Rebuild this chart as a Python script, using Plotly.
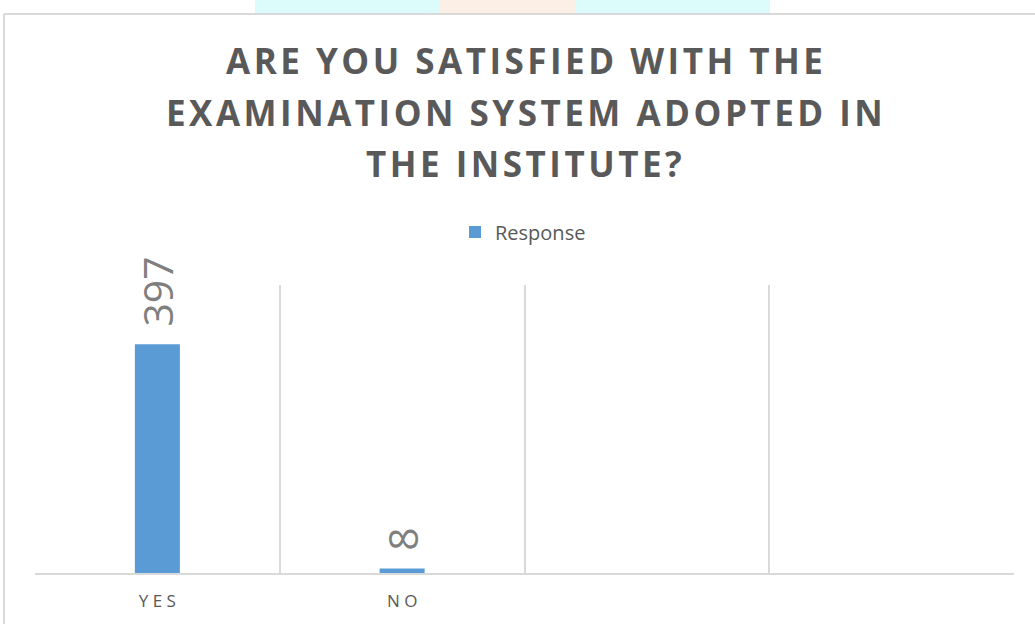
import plotly.graph_objects as go

categories = ["YES", "NO", "c3", "c4"]
tick_labels = ["Y E S", "N O", "", ""]
values = [397, 8, None, None]
series_name = "Response"
title_lines = ["ARE YOU SATISFIED WITH THE", "EXAMINATION SYSTEM ADOPTED IN", "THE INSTITUTE?"]

W, H = 1035, 624
L, R, T, B = 35, 21, 285, 51
ph = H - T - B
pw = W - L - R

def px(x):
    return (x - L) / pw

def py(y):
    return (H - B - y) / ph

fig = go.Figure()
fig.add_trace(go.Bar(
    x=categories, y=values, name=series_name,
    marker=dict(color="#5B9BD5", line=dict(width=0)),
    width=0.184,
    text=[("\u00a0\u200a" + str(v)) if v is not None else "" for v in values],
    textposition="outside", textangle=-90,
    textfont=dict(family="Open Sans", size=41, color="#7f7f7f"),
    constraintext="none", cliponaxis=False,
    showlegend=True, hoverinfo="skip",
))

def spaced(s):
    return "\u200a".join(list(s))

annotations = []
for i, line in enumerate(title_lines):
    annotations.append(dict(
        text="<b>" + spaced(line) + "</b>", xref="paper", yref="paper",
        x=px(524), y=py([60, 112, 163][i]), xanchor="center", yanchor="middle",
        showarrow=False,
        font=dict(family="Open Sans", size=35, color="#595959"),
    ))

shapes = [
    dict(type="rect", xref="paper", yref="paper", x0=px(255), x1=px(770), y0=py(13), y1=py(-2),
         fillcolor="#dcfbfb", line=dict(width=0), layer="below"),
    dict(type="rect", xref="paper", yref="paper", x0=px(440), x1=px(575), y0=py(13), y1=py(-2),
         fillcolor="#fbefe6", line=dict(width=0), layer="below"),
    dict(type="line", xref="paper", yref="paper", x0=px(4), x1=px(1040), y0=py(14), y1=py(14),
         line=dict(color="#d9d9d9", width=2)),
    dict(type="line", xref="paper", yref="paper", x0=px(4), x1=px(4), y0=py(14), y1=py(630),
         line=dict(color="#d9d9d9", width=2)),
]

fig.update_layout(
    width=W, height=H,
    margin=dict(l=L, r=R, t=T, b=B, pad=0),
    paper_bgcolor="white", plot_bgcolor="white",
    bargap=0.816,
    showlegend=True,
    legend=dict(orientation="h", x=px(523), y=py(232), xanchor="center", yanchor="middle",
                font=dict(family="Open Sans", size=20, color="#595959"),
                bgcolor="rgba(0,0,0,0)"),
    xaxis=dict(
        type="category", range=[-0.5, 3.5], tickmode="array",
        tickvals=categories, ticktext=tick_labels,
        tickson="boundaries", showgrid=True, gridcolor="#d9d9d9", gridwidth=1.5,
        showline=True, linecolor="#d9d9d9", linewidth=2,
        ticks="", ticklen=0, ticklabelstandoff=12,
        tickfont=dict(family="Open Sans", size=17, color="#595959"),
        fixedrange=True,
    ),
    yaxis=dict(range=[0, 500], visible=False, showgrid=False, zeroline=False, fixedrange=True),
    annotations=annotations,
    shapes=shapes,
)

fig.write_html("out.html", config={"displayModeBar": False},
               post_script="document.body.style.margin='0';document.body.style.padding='0';")
